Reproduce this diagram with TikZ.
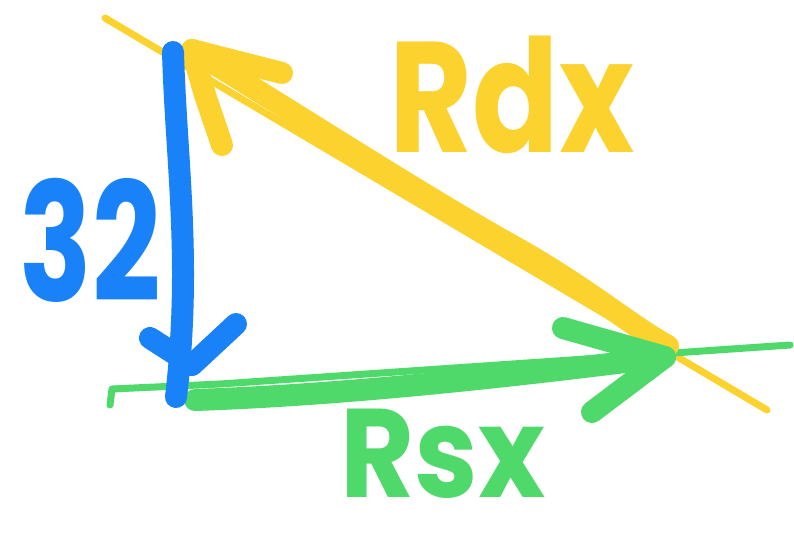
\documentclass[tikz,border=0pt]{standalone}
\usepackage{fontspec}
\setmainfont{Poppins}
\usepackage{graphicx}
\definecolor{penyellow}{HTML}{FCD22F}
\definecolor{penblue}{HTML}{1A82F8}
\definecolor{pengreen}{HTML}{4FD96B}
\tikzset{
  thinpen/.style={line width=7pt, line cap=round, line join=round},
  thickpen/.style={line width=22pt, line cap=round, line join=round},
  label/.style={inner sep=0pt, anchor=center, font=\fontsize{150}{150}\selectfont\bfseries},
  smalllabel/.style={inner sep=0pt, anchor=center, font=\fontsize{120}{120}\selectfont\bfseries},
}
\begin{document}
\begin{tikzpicture}[x=1pt,y=-1pt]
\useasboundingbox (0,0) rectangle (794,547);
\fill[white] (0,0) rectangle (794,547);

% thin guide lines
\coordinate (ya) at (105,18);
\coordinate (yb) at (767,410);
\draw[thinpen, penyellow] (ya) -- (yb);
\coordinate (ga) at (110,405);
\coordinate (gb) at (790,345);
\draw[thinpen, pengreen] (ga) -- (112,389) -- (220,384) -- (gb);

% yellow hypotenuse arrow
\coordinate (ytip) at (192,50);
\coordinate (yend) at (668,346);
\draw[thickpen, penyellow] (ytip) .. controls (330,135) and (430,200) .. (520,250) .. controls (590,290) and (630,325) .. (yend);
\draw[thickpen, penyellow] (282,73) -- (ytip) -- (205,95) -- (222,145);

% green base arrow
\coordinate (gstart) at (195,400);
\coordinate (gtip) at (665,357);
\draw[thickpen, pengreen] (gstart) .. controls (340,395) and (500,378) .. (gtip);
\draw[thickpen, pengreen] (563,328) -- (gtip) -- (592,412);

% blue vertical arrow
\coordinate (btop) at (173,52);
\coordinate (bbot) at (176,397);
\draw[thickpen, penblue] (btop) .. controls (176,160) and (192,260) .. (bbot);
\draw[thickpen, penblue] (150,338) -- (192,365) -- (236,324);

% labels
\node[label, text=penblue] (n32) at (90,240) {\scalebox{0.8}[1.1]{32}};
\node[label, text=penyellow] (rdx) at (512,95) {\scalebox{0.85}[1.05]{Rdx}};
\node[smalllabel, text=pengreen] (rsx) at (443,454) {\scalebox{0.95}[1.05]{Rsx}};
\end{tikzpicture}
\end{document}
